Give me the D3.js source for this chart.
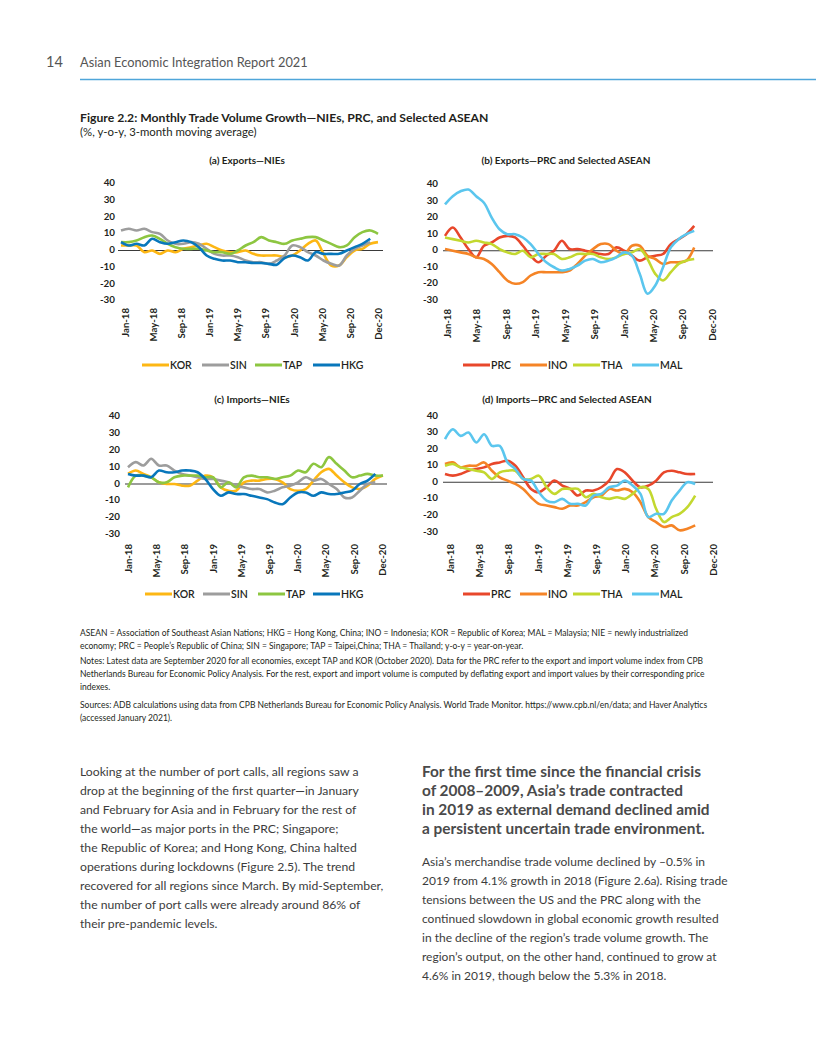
<!DOCTYPE html>
<html lang="en">
<head>
<meta charset="UTF-8">
<title>Figure 2.2 Monthly Trade Volume Growth</title>
<script src="https://cdn.jsdelivr.net/npm/d3@7"></script>
<style>
  body { margin: 0; background: #fff; }
  text { font-family: Lato, "Open Sans", sans-serif; }
</style>
</head>
<body>
<div id="page"></div>
<script>
// months with data (Jan-18 .. Oct-20)
const months = ["Jan-18","Feb-18","Mar-18","Apr-18","May-18","Jun-18","Jul-18","Aug-18","Sep-18","Oct-18","Nov-18","Dec-18",
  "Jan-19","Feb-19","Mar-19","Apr-19","May-19","Jun-19","Jul-19","Aug-19","Sep-19","Oct-19","Nov-19","Dec-19",
  "Jan-20","Feb-20","Mar-20","Apr-20","May-20","Jun-20","Jul-20","Aug-20","Sep-20","Oct-20"];
const tickLabels = ["Jan-18","May-18","Sep-18","Jan-19","May-19","Sep-19","Jan-20","May-20","Sep-20","Dec-20"];
const yTicks = [40, 30, 20, 10, 0, -10, -20, -30];

// (a) Exports - NIEs
const korExp = [3,3,3,-1,0,-2,0,-1,1,2,3,4,2,0,-1,-1,0,-2,-3,-3,-3,-4,-3,0,4,6,-2,-9,-9,-4,0,1,4,5];
const sinExp = [12,13,12,13,11,10,6,4,4,5,4,1,-2,-3,-3,-4,-6,-7,-7,-8,-6,-3,3,2,-1,-3,-6,-8,-9,-3,1,3,5];
const tapExp = [5,5,6,8,9,7,4,2,1,1,1,0,-1,-1,-2,0,3,5,8,6,5,4,6,7,8,8,6,4,2,3,8,11,12,10];
const hkgExp = [5,3,4,3,7,5,4,5,6,5,2,-3,-5,-6,-6,-7,-7,-7.5,-7.5,-8,-8.5,-4.5,-3,-4,-6,-1,-2,-2,-2,0,2,4,7];

// (b) Exports - PRC and selected ASEAN
const prcExp = [9,14,8,1,-4,3,5,8,9,8,3,-3,-7,-3,0,6,1,1,0,-1,-2,-2,2,0,-3,-6,-4,-3,-2,4,7,10,15];
const inoExp = [1,0,-1,-2,-4,-5,-8,-13,-18,-20,-19,-15,-13,-13,-13,-13,-12,-8,-3,1,4,4,0,-2,3,3,-3,-5,-8,-7,-7,-6,2];
const thaExp = [8,7,6,5,6,5,4,1,-1,-2,0,-4,-2,-2,-2,-5,-4,-2,-2,-2,-4,-5,-4,-2,-1,1,-5,-14,-18,-13,-8,-6,-5];
const malExp = [28,33,36,37,33,29,20,13,10,10,8,4,-2,-7,-10,-12,-11,-9,-6,-5,-7,-6,-4,-1,-3,-14,-26,-21,-10,2,7,10,12];

// (c) Imports - NIEs
const korImp = [6,8,6,4,1,0,0,-1,-1,2,5,4,-2,-4,-4,1,2,2,3,3,1,-3,-4,-3,2,7,9,5,1,-2,-3,-1,3,5];
const sinImp = [10,13,11,15,11,11,8,6,5,4,3,3,2,1,-1,-2,-3,-3,-5,-4,-2,-1,1,4,2,3,0,-3,-8,-8,-4,0,1];
const tapImp = [-2,5,5,4,1,1,4,5,5,5,4,4,-2,1,-2,4,5,4,4,3,4,5,8,7,12,10,16,12,8,4,5,6,5,5];
const hkgImp = [6,5,5,4,8,7,7,8,8,7,3,-3,-7,-5,-6,-6,-7,-8,-9,-11,-12,-8,-5,-5,-7,-5,-6,-6,-5,-4,0,2,6];

// (d) Imports - PRC and selected ASEAN
const prcImp = [5,4,5,7,8,9,11,12,13,10,3,-4,-6,-3,1,-2,-4,-8,-5,-5,-3,1,8,6,1,-3,-2,1,6,7,6,5,5];
const inoImp = [11,12,9,10,10,12,7,3,1,-1,-4,-9,-13,-14,-15,-16,-14,-14,-12,-9,-8,-4,-5,-4,-6,-12,-21,-24,-27,-26,-29,-28,-26];
const thaImp = [10,11,9,8,7,6,2,6,7,7,2,2,4,-3,-7,-4,-4,-4,-9,-7,-9,-10,-9,-10,-7,-3,-4,-16,-24,-21,-19,-15,-8];
const malImp = [26,32,28,30,24,29,22,22,12,8,2,1,-6,-11,-12,-10,-13,-13,-14,-8,-7,-3,-2,1,-2,-7,-21,-19,-19,-11,-5,0,-1];

const colors = { KOR: "#fdb714", SIN: "#9d9d9d", TAP: "#8dc641", HKG: "#0877bb",
                 PRC: "#e8472b", INO: "#f58426", THA: "#c3d82f", MAL: "#5bc6ee" };

const panels = [
  { title: "(a) Exports\u2014NIEs", titleX: 247, titleY: 164,
    series: [["KOR", korExp], ["SIN", sinExp], ["TAP", tapExp], ["HKG", hkgExp]],
    yRange: [300.6, 183.7], labelX: 115, axisX: [118, 383], dataX: [121, 378], tickX: [125, 378], tickTop: 308,
    legendY: 365, legendX: [142, 202, 255, 313] },
  { title: "(b) Exports\u2014PRC and Selected ASEAN", titleX: 566, titleY: 164,
    series: [["PRC", prcExp], ["INO", inoExp], ["THA", thaExp], ["MAL", malExp]],
    yRange: [300.3, 184.6], labelX: 438, axisX: [443, 713], dataX: [445, 702], tickX: [447, 712], tickTop: 309,
    legendY: 365, legendX: [463, 520, 573, 632] },
  { title: "(c) Imports\u2014NIEs", titleX: 252, titleY: 403,
    series: [["KOR", korImp], ["SIN", sinImp], ["TAP", tapImp], ["HKG", hkgImp]],
    yRange: [534.4, 416.8], labelX: 120, axisX: [125, 387], dataX: [128, 383], tickX: [128, 382], tickTop: 544,
    legendY: 594, legendX: [145, 203, 258, 313] },
  { title: "(d) Imports\u2014PRC and Selected ASEAN", titleX: 567, titleY: 403,
    series: [["PRC", prcImp], ["INO", inoImp], ["THA", thaImp], ["MAL", malImp]],
    yRange: [532, 416], labelX: 438, axisX: [443, 713], dataX: [445, 703], tickX: [450, 713], tickTop: 544,
    legendY: 594, legendX: [463, 520, 573, 632] }
];

const svg = d3.select("#page").append("svg")
  .attr("width", 816).attr("height", 1056);

// page header
svg.append("text").attr("x", 46).attr("y", 67).attr("font-size", 14.5).attr("fill", "#555").text("14");
svg.append("text").attr("x", 80).attr("y", 67).attr("font-size", 12.8).attr("fill", "#555")
  .text("Asian Economic Integration Report 2021");
svg.append("line").attr("x1", 80).attr("x2", 816).attr("y1", 79.5).attr("y2", 79.5)
  .attr("stroke", "#4fa6da").attr("stroke-width", 1.3);

// figure title
svg.append("text").attr("x", 80).attr("y", 122).attr("font-size", 12.2).attr("font-weight", 700).attr("fill", "#231f20")
  .text("Figure 2.2: Monthly Trade Volume Growth\u2014NIEs, PRC, and Selected ASEAN");
svg.append("text").attr("x", 80).attr("y", 135.5).attr("font-size", 11.4).attr("fill", "#231f20")
  .text("(%, y-o-y, 3-month moving average)");

panels.forEach(p => {
  const g = svg.append("g");
  const x = d3.scalePoint().domain(months).range(p.dataX);
  const xTicks = d3.scalePoint().domain(tickLabels).range(p.tickX);
  const y = d3.scaleLinear().domain([-30, 40]).range(p.yRange);

  g.append("text").attr("x", p.titleX).attr("y", p.titleY).attr("text-anchor", "middle")
    .attr("font-size", 10).attr("font-weight", 700).attr("fill", "#231f20").text(p.title);

  // y labels
  const yAxis = g.append("g").attr("transform", "translate(" + p.labelX + ",-1)")
    .call(d3.axisLeft(y).tickValues(yTicks).tickSize(0).tickPadding(0).tickFormat(d => String(d)));
  yAxis.select(".domain").remove();
  yAxis.selectAll("text").attr("font-size", 9.8).attr("font-weight", 700).attr("fill", "#231f20")
    .attr("font-family", "Lato, sans-serif");

  // zero line
  g.append("line").attr("x1", p.axisX[0]).attr("x2", p.axisX[1])
    .attr("y1", y(0)).attr("y2", y(0)).attr("stroke", "#3a3a3a").attr("stroke-width", 1.1);

  // x labels, rotated
  const xAxis = g.append("g").attr("transform", "translate(0," + p.tickTop + ")")
    .call(d3.axisBottom(xTicks).tickSize(0).tickPadding(0));
  xAxis.select(".domain").remove();
  xAxis.selectAll("text")
    .attr("transform", "rotate(-90)")
    .attr("text-anchor", "end")
    .attr("x", 0).attr("y", 0).attr("dy", "0.35em")
    .attr("font-size", 9.6).attr("font-weight", 700).attr("fill", "#231f20")
    .attr("font-family", "Lato, sans-serif");

  const line = d3.line()
    .x((d, i) => x(months[i]))
    .y(d => y(d))
    .curve(d3.curveCatmullRom.alpha(0.5));

  g.selectAll("path.series").data(p.series).enter().append("path")
    .attr("class", "series")
    .attr("d", d => line(d[1]))
    .attr("fill", "none")
    .attr("stroke", d => colors[d[0]])
    .attr("stroke-width", 2.6)
    .attr("stroke-linejoin", "round");

  // legend
  const leg = g.selectAll("g.leg").data(p.series).enter().append("g")
    .attr("class", "leg")
    .attr("transform", (d, i) => "translate(" + p.legendX[i] + "," + p.legendY + ")");
  leg.append("line").attr("x1", 0).attr("x2", 27).attr("y1", 0).attr("y2", 0)
    .attr("stroke", d => colors[d[0]]).attr("stroke-width", 3);
  leg.append("text").attr("x", 28).attr("y", 3.7).attr("font-size", 10.5).attr("font-weight", 600)
    .attr("fill", "#231f20").text(d => d[0]);
});

// abbreviations, notes and sources
const noteLines = [
  [636, "ASEAN = Association of Southeast Asian Nations; HKG = Hong Kong, China; INO = Indonesia; KOR = Republic of Korea; MAL = Malaysia; NIE = newly industrialized"],
  [649, "economy; PRC = People\u2019s Republic of China;  SIN = Singapore; TAP = Taipei,China; THA = Thailand; y-o-y = year-on-year."],
  [664, "Notes: Latest data are September 2020 for all economies, except TAP and KOR (October 2020). Data for the PRC refer to the export and import volume index from CPB"],
  [677, "Netherlands Bureau for Economic Policy Analysis. For the rest, export and import volume is computed by deflating export and import values by their corresponding price"],
  [690, "indexes."],
  [708, "Sources: ADB calculations using data from CPB Netherlands Bureau for Economic Policy Analysis. World Trade Monitor. https://www.cpb.nl/en/data; and Haver Analytics"],
  [721, "(accessed January 2021)."]
];
svg.selectAll("text.note").data(noteLines).enter().append("text")
  .attr("class", "note").attr("x", 80).attr("y", d => d[0])
  .attr("font-size", 8.5).attr("fill", "#231f20").text(d => d[1]);

// body text
const leftBody = [
  "Looking at the number of port calls, all regions saw a",
  "drop at the beginning of the first quarter\u2014in January",
  "and February for Asia and in February for the rest of",
  "the world\u2014as major ports  in the PRC; Singapore;",
  "the Republic of Korea; and Hong Kong, China halted",
  "operations during lockdowns (Figure 2.5). The trend",
  "recovered for all regions since March. By mid-September,",
  "the number of port calls were already around 86% of",
  "their pre-pandemic levels."
];
svg.selectAll("text.left").data(leftBody).enter().append("text")
  .attr("class", "left").attr("x", 80).attr("y", (d, i) => 776 + i * 19)
  .attr("font-size", 12.2).attr("fill", "#3c3c3c").text(d => d);

const heading = [
  "For the first time since the financial crisis",
  "of 2008\u20132009, Asia\u2019s trade contracted",
  "in 2019 as external demand declined amid",
  "a persistent uncertain trade environment."
];
svg.selectAll("text.head").data(heading).enter().append("text")
  .attr("class", "head").attr("x", 422).attr("y", (d, i) => 777 + i * 19)
  .attr("font-size", 15.4).attr("font-weight", 700).attr("fill", "#4a4a4a").text(d => d);

const rightBody = [
  "Asia\u2019s merchandise trade volume declined by \u20130.5% in",
  "2019 from 4.1% growth in 2018 (Figure 2.6a). Rising trade",
  "tensions between the US and the PRC along with the",
  "continued slowdown in global economic growth resulted",
  "in the decline of the region\u2019s trade volume growth. The",
  "region\u2019s output, on the other hand, continued to grow at",
  "4.6% in 2019, though below the 5.3% in 2018."
];
svg.selectAll("text.right").data(rightBody).enter().append("text")
  .attr("class", "right").attr("x", 422).attr("y", (d, i) => 866 + i * 19)
  .attr("font-size", 12).attr("fill", "#3c3c3c").text(d => d);
</script>
</body>
</html>
